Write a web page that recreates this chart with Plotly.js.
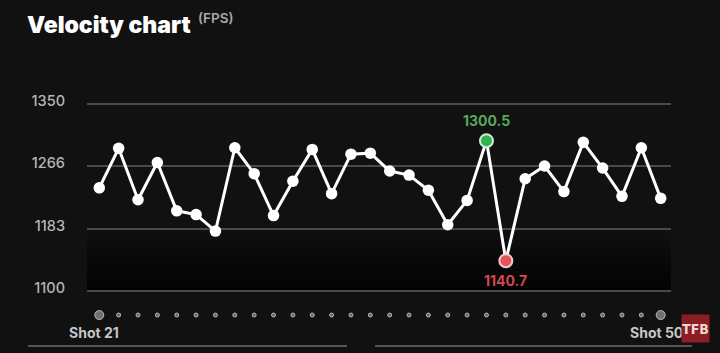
<!DOCTYPE html>
<html>
<head>
<meta charset="utf-8">
<script src="https://cdn.plot.ly/plotly-3.0.1.min.js"></script>
<style>
  html, body { margin: 0; padding: 0; background: #111111; }
  #chart { width: 720px; height: 353px; }
</style>
</head>
<body>
<div id="chart"></div>
<script>
// ---- data ----
const shots = [21,22,23,24,25,26,27,28,29,30,31,32,33,34,35,36,37,38,39,40,41,42,43,44,45,46,47,48,49,50];
const velocities = [1237.7,1290.3,1221.9,1271.4,1207.1,1202.1,1180.1,1291.1,1256.6,1200.8,
                    1246.6,1288.9,1230.0,1282.6,1283.9,1260.1,1254.7,1234.5,1188.6,1221.0,
                    1300.5,1140.7,1249.8,1266.8,1232.7,1298.3,1264.1,1226.4,1291.1,1223.7];
const yTickVals = [1100, 1183.33, 1266.67, 1350];
const yTickText = ['1100', '1183', '1266', '1350'];
const titleText = 'Velocity chart';
const unitText = '(FPS)';
const firstLabel = 'Shot 21';
const lastLabel = 'Shot 50';

// ---- derived ----
let iMax = 0, iMin = 0;
velocities.forEach((v, i) => { if (v > velocities[iMax]) iMax = i; if (v < velocities[iMin]) iMin = i; });
const dotSizes = shots.map((s, i) => (i === 0 || i === shots.length - 1) ? 9 : 4);
const dotColors = shots.map((s, i) => (i === 0 || i === shots.length - 1) ? '#9a9a9a' : '#8a8a8a');

const FONT = 'Inter, "Noto Sans", "DejaVu Sans", sans-serif';

const traces = [
  {
    x: shots, y: velocities, type: 'scatter', mode: 'lines+markers',
    line: { color: '#ffffff', width: 3 },
    marker: { color: '#ffffff', size: 11.5 },
    cliponaxis: false, hoverinfo: 'skip', xaxis: 'x', yaxis: 'y'
  },
  {
    x: [shots[iMax]], y: [velocities[iMax]], type: 'scatter', mode: 'markers',
    marker: { color: '#2eb34f', size: 13, line: { color: '#d2ead6', width: 2 } },
    cliponaxis: false, hoverinfo: 'skip', xaxis: 'x', yaxis: 'y'
  },
  {
    x: [shots[iMin]], y: [velocities[iMin]], type: 'scatter', mode: 'markers',
    marker: { color: '#e4545c', size: 13, line: { color: '#f6c9c9', width: 2 } },
    cliponaxis: false, hoverinfo: 'skip', xaxis: 'x', yaxis: 'y'
  },
  {
    x: shots, y: shots.map(() => 0), type: 'scatter', mode: 'markers',
    marker: { color: dotColors, size: dotSizes },
    hoverinfo: 'skip', xaxis: 'x', yaxis: 'y2'
  }
];

// gradient bands beneath lowest section
const shapes = [];
const nb = 16;
const gTop = yTickVals[1], gBot = yTickVals[0];
for (let i = 0; i < nb; i++) {
  const y0 = gTop - (gTop - gBot) * i / nb;
  const y1 = gTop - (gTop - gBot) * (i + 1) / nb;
  shapes.push({
    type: 'rect', xref: 'paper', yref: 'y', x0: 0, x1: 1, y0: y0, y1: y1,
    fillcolor: 'rgba(0,0,0,' + (0.9 * (i + 0.5) / nb).toFixed(3) + ')',
    line: { width: 0 }, layer: 'below'
  });
}
shapes.push({ type: 'line', xref: 'paper', yref: 'paper', x0: -0.101, x1: 0.4452, y0: -0.0696, y1: -0.0696,
  line: { color: '#575757', width: 2 } });
shapes.push({ type: 'line', xref: 'paper', yref: 'paper', x0: 0.4932, x1: 1.036, y0: -0.0696, y1: -0.0696,
  line: { color: '#575757', width: 2 } });

const annotations = [
  { text: titleText, xref: 'paper', yref: 'paper', x: -0.1065, y: 1.326, xanchor: 'left', yanchor: 'middle',
    showarrow: false, font: { family: FONT, size: 23, color: '#ffffff', weight: 900 } },
  { text: unitText, xref: 'paper', yref: 'paper', x: 0.186, y: 1.3565, xanchor: 'left', yanchor: 'middle',
    showarrow: false, font: { family: FONT, size: 13.5, color: '#a8a8a8', weight: 600 } },
  { text: velocities[iMax].toFixed(1), xref: 'x', yref: 'y', x: shots[iMax], y: velocities[iMax],
    showarrow: false, yshift: 20, font: { family: FONT, size: 14, color: '#55a85c', weight: 700 } },
  { text: velocities[iMin].toFixed(1), xref: 'x', yref: 'y', x: shots[iMin], y: velocities[iMin],
    showarrow: false, yshift: -20, font: { family: FONT, size: 14, color: '#cf4a50', weight: 700 } },
  { text: firstLabel, xref: 'x', yref: 'paper', x: shots[0], y: -0.0117, xshift: -5, yanchor: 'middle',
    showarrow: false, font: { family: FONT, size: 14, color: '#c6c6c6', weight: 700 } },
  { text: lastLabel, xref: 'x', yref: 'paper', x: shots[shots.length - 1], y: -0.0117, xshift: -4, yanchor: 'middle',
    showarrow: false, font: { family: FONT, size: 14, color: '#c6c6c6', weight: 700 } },
  { text: 'TFB', xref: 'paper', yref: 'paper', x: 1.042, y: 0.0065, xanchor: 'center', yanchor: 'middle',
    showarrow: false, width: 27, height: 27, bgcolor: '#8c1d21', borderpad: 0,
    font: { family: '"DejaVu Sans Condensed", "Liberation Sans Narrow", "DejaVu Sans", sans-serif', size: 14, color: '#ecd6d6', weight: 700 } }
];

const layout = {
  width: 720, height: 353,
  margin: { l: 87, r: 49, t: 100, b: 23, pad: 0 },
  paper_bgcolor: '#111111', plot_bgcolor: '#111111',
  showlegend: false,
  xaxis: { range: [20.365, 50.532], showgrid: false, zeroline: false, showticklabels: false, showline: false, fixedrange: true },
  yaxis: { domain: [0.1522, 1], range: [1095.07, 1354.66], tickvals: yTickVals, ticktext: yTickText,
    showgrid: true, gridcolor: '#4a4a4a', gridwidth: 2, zeroline: false, showline: false, ticks: '',
    ticklabelstandoff: 21, ticklabelshift: -3,
    tickfont: { family: FONT, size: 14.5, color: '#b6b6b6', weight: 500 }, fixedrange: true },
  yaxis2: { domain: [0, 0.13], range: [-1, 1], showgrid: false, zeroline: false, showticklabels: false, showline: false, fixedrange: true },
  shapes: shapes,
  annotations: annotations
};

Plotly.newPlot('chart', traces, layout, { displayModeBar: false, staticPlot: true });
</script>
</body>
</html>
